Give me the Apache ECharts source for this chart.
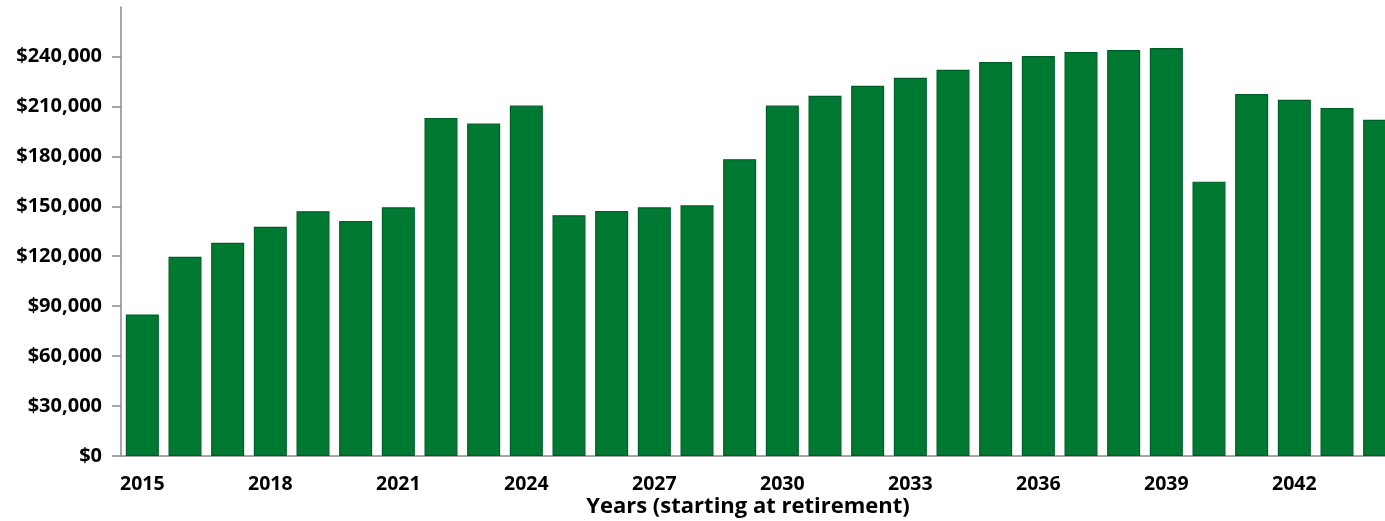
<!DOCTYPE html>
<html>
<head>
<meta charset="utf-8">
<script src="https://cdn.jsdelivr.net/npm/echarts@6/dist/echarts.min.js"></script>
<style>
  html, body { margin: 0; padding: 0; background: #ffffff; }
  #chart { width: 1385px; height: 521px; }
</style>
</head>
<body>
<div id="chart"></div>
<script>
// Annual retirement income, one bar per year
const years = [
  '2015', '2016', '2017', '2018', '2019', '2020', '2021', '2022', '2023', '2024',
  '2025', '2026', '2027', '2028', '2029', '2030', '2031', '2032', '2033', '2034',
  '2035', '2036', '2037', '2038', '2039', '2040', '2041', '2042', '2043', '2044'
];
const income = [
  85000, 119700, 128100, 137700, 147000, 141200, 149400, 203100, 199700, 210500,
  144600, 147200, 149400, 150600, 178300, 210500, 216400, 222400, 227200, 232000,
  236600, 240200, 242600, 243800, 245000, 164800, 217400, 214000, 209100, 201900
];
// Dollar ticks on the value axis
const yTicks = [0, 30000, 60000, 90000, 120000, 150000, 180000, 210000, 240000];
const xAxisTitle = 'Years (starting at retirement)';

const FONT = '"Open Sans", "Noto Sans", sans-serif';
const AXIS_GREY = '#8a8a8a';

function money(v) {
  return '$' + Number(v).toLocaleString('en-US');
}

const chart = echarts.init(document.getElementById('chart'), null, { renderer: 'canvas' });
chart.setOption({
  animation: false,
  backgroundColor: '#ffffff',
  title: {
    text: xAxisTitle,
    left: 743,
    top: 491,
    textAlign: 'center',
    textStyle: { fontFamily: FONT, fontWeight: 'bold', fontSize: 22, color: '#000000' }
  },
  // the last category runs past the right edge of the canvas
  grid: { left: 121, top: 7, bottom: 65, right: -16, containLabel: false, outerBoundsMode: 'none' },
  xAxis: {
    type: 'category',
    data: years,
    axisLine: { lineStyle: { color: AXIS_GREY, width: 1.5 } },
    axisTick: { alignWithLabel: true, interval: 0, length: 9, lineStyle: { color: AXIS_GREY, width: 1.5 } },
    axisLabel: {
      interval: 2,
      margin: 18,
      fontFamily: FONT, fontWeight: 'bold', fontSize: 19.5, color: '#000000'
    }
  },
  yAxis: {
    type: 'value',
    min: 0,
    max: 269700,
    interval: 30000,
    splitLine: { show: false },
    axisLine: { show: true, lineStyle: { color: AXIS_GREY, width: 1.5 } },
    axisTick: { show: true, length: 9, customValues: yTicks, lineStyle: { color: AXIS_GREY, width: 1.5 } },
    axisLabel: {
      margin: 19,
      customValues: yTicks,
      formatter: money,
      fontFamily: FONT, fontWeight: 'bold', fontSize: 20, color: '#000000'
    }
  },
  series: [{
    type: 'bar',
    data: income,
    barWidth: 33,
    itemStyle: { color: '#007a33', borderColor: '#005e27', borderWidth: 1.2 }
  }]
});
</script>
</body>
</html>
